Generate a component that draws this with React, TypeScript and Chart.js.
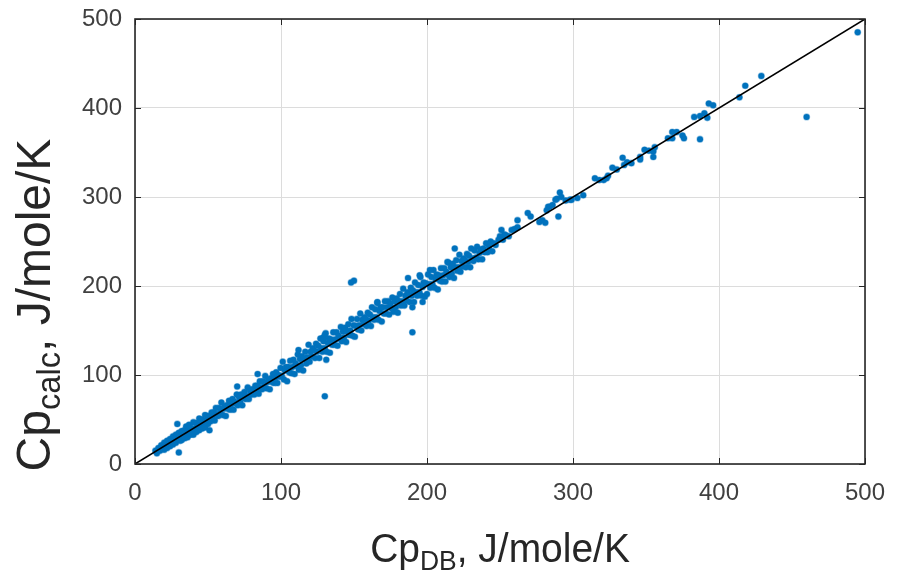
import { useEffect, useRef } from "react";
import { Chart, registerables } from "chart.js";

Chart.register(...registerables);

// Cp from database (x) and calculated Cp (y), J/mole/K, by range
const dbLow = [
  14, 15, 16, 17, 18, 19, 20, 20, 21, 22, 22, 23, 24, 24, 25, 26, 26, 27, 28, 28,
  29, 29, 30, 30, 31, 31, 32, 32, 33, 34, 34, 35, 35, 36, 37, 37, 38, 38, 39, 40,
  40, 41, 42, 42, 43, 44, 44, 45, 46, 46, 47, 48, 48, 49, 50, 50,
];
const calcLow = [
  15, 12, 18, 15, 21, 17, 16, 24, 19, 26, 18, 22, 28, 20, 23, 31, 22, 27, 33, 24,
  45, 30, 13, 35, 26, 32, 37, 27, 31, 38, 29, 35, 42, 30, 38, 44, 33, 41, 35, 47,
  33, 40, 46, 36, 43, 51, 38, 45, 50, 40, 47, 55, 41, 49, 54, 45,
];

const dbMid1 = [
  51, 51.8, 52.5, 53.3, 54, 54.6, 55.4, 56.1, 57, 57.7,
  58.3, 59.2, 60, 60.7, 61.5, 62.2, 63, 63.6, 64.4, 65.1,
  66, 66.8, 67.5, 68.2, 69, 69.7, 70.4, 71.3, 72, 72.6,
  73.5, 74.2, 75, 75.7, 76.4, 77.2, 78, 78.8, 79.5, 80.2,
  81, 81.7, 82.4, 83.2, 84, 84.7, 85.5, 86.2, 87, 87.6,
  88.4, 89.2, 90, 90.7, 91.5, 92.3, 93, 93.8, 94.5, 95.2,
  96, 96.7, 97.5, 98.3, 99, 99.7, 51, 70, 84,
];
const calcMid1 = [
  53, 48, 58, 52, 58, 49, 63, 56, 54, 63,
  57, 69, 55, 62, 65, 54, 66, 62, 71, 61,
  67, 73, 61, 70, 68, 78, 66, 75, 70, 78,
  66, 75, 81, 73, 76, 86, 73, 82, 78, 84,
  83, 78, 88, 82, 88, 79, 93, 86, 84, 93,
  87, 99, 85, 92, 95, 84, 96, 92, 101, 91,
  97, 103, 91, 100, 98, 108, 38, 87, 101,
];

const dbMid2 = [
  100.5, 101.2, 102, 102.7, 103.4, 104.2, 105, 105.6, 106.3, 107.1,
  107.8, 108.5, 109.3, 110, 110.8, 111.5, 112.2, 113, 113.7, 114.4,
  115.2, 116, 116.6, 117.4, 118.1, 118.9, 119.6, 120.3, 121.1, 121.8,
  122.5, 123.3, 124, 124.7, 125.5, 126.2, 127, 127.6, 128.4, 129.1,
  129.9, 130.6, 131.3, 132.1, 132.8, 133.5, 134.3, 135, 135.8, 136.5,
  137.2, 138, 138.7, 139.4, 140.2, 141, 141.6, 142.4, 143.1, 143.9,
  144.6, 145.3, 146.1, 146.8, 147.5, 148.3, 149, 149.8,
  112, 129, 130, 130, 131, 148, 150,
];
const calcMid2 = [
  99, 115, 95, 105, 109, 93, 109, 103, 116, 102,
  109, 117, 101, 113, 110, 123, 106, 118, 111, 121,
  105, 118, 126, 113, 120, 134, 115, 126, 121, 130,
  128, 119, 135, 126, 133, 119, 141, 130, 126, 138,
  130, 147, 126, 136, 141, 125, 140, 134, 148, 134,
  140, 148, 133, 144, 141, 154, 138, 149, 142, 153,
  137, 149, 157, 145, 150, 163, 144, 156,
  128, 142, 145, 76, 117, 204, 206,
];

const dbMid3 = [
  150.6, 151.3, 152.1, 152.8, 153.5, 154.3, 155, 155.7, 156.5, 157.2,
  158, 158.6, 159.4, 160.1, 160.9, 161.6, 162.3, 163.1, 163.8, 164.5,
  165.3, 166, 166.8, 167.5, 168.2, 169, 169.7, 170.4, 171.2, 171.9,
  172.7, 173.4, 174.1, 174.9, 175.6, 176.3, 177.1, 177.8, 178.6, 179.3,
  180, 180.8, 181.5, 182.2, 183, 183.7, 184.5, 185.2, 185.9, 186.7,
  187.4, 188.1, 188.9, 189.6, 190.4, 191.1, 191.8, 192.6, 193.3, 194,
  194.8, 195.5, 196.3, 197, 197.7, 198.5, 199.2,
  166, 187, 190, 190, 195, 197,
];
const calcMid3 = [
  143, 155, 163, 151, 156, 169, 150, 162, 157, 165,
  163, 155, 170, 161, 168, 155, 176, 165, 162, 174,
  165, 182, 162, 172, 176, 160, 176, 169, 183, 169,
  176, 183, 168, 180, 175, 187, 171, 183, 176, 186,
  170, 183, 191, 178, 183, 197, 178, 189, 184, 193,
  190, 182, 198, 189, 195, 182, 204, 193, 189, 201,
  193, 210, 189, 199, 204, 188, 203,
  181, 209, 148, 176, 212, 182,
];

const dbMid4 = [
  200, 200.7, 201.5, 202.2, 203, 203.7, 204.4, 205.2, 205.9, 206.6,
  207.4, 208.1, 208.9, 209.6, 210.3, 211.1, 211.8, 212.6, 213.3, 214,
  214.8, 215.5, 216.3, 217, 217.7, 218.5, 219.2, 220, 220.7, 221.4,
  222.2, 222.9, 223.7, 224.4, 225.1, 225.9, 226.6, 227.4, 228.1, 228.8,
  229.6, 230.3, 231.1, 231.8, 232.6, 233.5, 234.3, 235.2, 236, 236.9,
  237.8, 238.6, 239.5, 240.5, 241.5, 242.5, 243.6, 244.7, 245.8, 247,
  202, 214, 219, 249, 250, 251, 252, 253, 254, 256, 258, 260, 262, 262,
];
const calcMid4 = [
  191, 213, 202, 198, 210, 202, 218, 198, 208, 213,
  196, 212, 206, 220, 205, 212, 220, 205, 216, 213,
  226, 210, 221, 214, 225, 209, 221, 229, 217, 221,
  235, 216, 228, 222, 231, 229, 221, 236, 227, 234,
  221, 242, 231, 228, 240, 232, 244, 230, 237, 241,
  230, 242, 238, 248, 238, 244, 250, 239, 248, 246,
  218, 227, 242, 252, 256, 263, 252, 258, 257, 256, 263, 264, 266, 274,
];

const dbHigh = [
  269, 271, 277, 279, 281, 282, 283, 284, 286, 288, 289, 290, 291, 292, 295, 298, 299, 303, 307, 315,
  318, 321, 323, 324, 327, 330, 334, 335, 337, 340, 346, 346, 349, 352, 355, 355, 356, 365, 368, 368,
  371, 375, 376, 383, 387, 387, 390, 392, 393, 396, 414, 418, 429, 460, 495,
];
const calcHigh = [
  282, 278, 272, 274, 271, 285, 289, 289, 291, 297, 298, 278, 305, 300, 296, 297, 297, 299, 302, 321,
  319, 319, 321, 324, 333, 331, 344, 336, 339, 338, 345, 342, 353, 352, 351, 345, 356, 366, 373, 366,
  373, 369, 366, 390, 391, 365, 394, 389, 405, 403, 412, 425, 436, 390, 485,
];

const cpDB = [...dbLow, ...dbMid1, ...dbMid2, ...dbMid3, ...dbMid4, ...dbHigh];
const cpCalc = [...calcLow, ...calcMid1, ...calcMid2, ...calcMid3, ...calcMid4, ...calcHigh];

const parityEnds = [0, 500];
const axisMin = 0;
const axisMax = 500;
const tickStep = 100;

const xTitleParts = ["Cp", "DB", ", J/mole/K"];
const yTitleParts = ["Cp", "calc", ", J/mole/K"];

const FONT = "'Liberation Sans', Arial, Helvetica, sans-serif";

function drawSubTitle(ctx: CanvasRenderingContext2D, parts: string[], size: number) {
  const subSize = size * 0.68;
  ctx.font = `${size}px ${FONT}`;
  const w1 = ctx.measureText(parts[0]).width;
  const w3 = ctx.measureText(parts[2]).width;
  ctx.font = `${subSize}px ${FONT}`;
  const w2 = ctx.measureText(parts[1]).width;
  const total = w1 + w2 + w3;
  let x = -total / 2;
  ctx.textBaseline = "alphabetic";
  ctx.textAlign = "left";
  ctx.font = `${size}px ${FONT}`;
  ctx.fillText(parts[0], x, 0);
  x += w1;
  ctx.font = `${subSize}px ${FONT}`;
  ctx.fillText(parts[1], x, size * 0.2);
  x += w2;
  ctx.font = `${size}px ${FONT}`;
  ctx.fillText(parts[2], x, 0);
}

const framePlugin = {
  id: "frameAndTitles",
  afterDraw(chart: any) {
    const { ctx, chartArea } = chart;
    const { left, right, top, bottom } = chartArea;
    const xs = chart.scales.x;
    const ys = chart.scales.y;
    ctx.save();
    ctx.strokeStyle = "#262626";
    ctx.lineWidth = 1.6;
    ctx.strokeRect(left, top, right - left, bottom - top);
    ctx.lineWidth = 1;
    const tl = 6;
    ctx.beginPath();
    xs.ticks.forEach((t: any) => {
      const px = Math.round(xs.getPixelForValue(t.value)) + 0.5;
      ctx.moveTo(px, bottom);
      ctx.lineTo(px, bottom - tl);
      ctx.moveTo(px, top);
      ctx.lineTo(px, top + tl);
    });
    ys.ticks.forEach((t: any) => {
      const py = Math.round(ys.getPixelForValue(t.value)) + 0.5;
      ctx.moveTo(left, py);
      ctx.lineTo(left + tl, py);
      ctx.moveTo(right, py);
      ctx.lineTo(right - tl, py);
    });
    ctx.stroke();

    ctx.fillStyle = "#262626";
    ctx.save();
    ctx.translate((left + right) / 2, 562);
    ctx.scale(0.95, 1);
    drawSubTitle(ctx, xTitleParts, 41);
    ctx.restore();
    ctx.save();
    ctx.translate(50, 305);
    ctx.rotate(-Math.PI / 2);
    drawSubTitle(ctx, yTitleParts, 48);
    ctx.restore();
    ctx.restore();
  },
};

export default function App() {
  const ref = useRef<HTMLCanvasElement>(null);
  useEffect(() => {
    document.body.style.margin = "0";
    const points = cpDB.map((x, i) => ({ x, y: cpCalc[i] }));
    const line = parityEnds.map((v) => ({ x: v, y: v }));
    const tickFont = { family: FONT, size: 24 };
    const chart = new Chart(ref.current!, {
      type: "scatter",
      data: {
        datasets: [
          {
            data: line,
            showLine: true,
            borderColor: "#000000",
            borderWidth: 1.5,
            pointRadius: 0,
            order: 0,
          },
          {
            data: points,
            backgroundColor: "#0072BD",
            borderColor: "rgba(0,114,189,0.4)",
            borderWidth: 1.2,
            pointRadius: 3,
            order: 1,
          },
        ],
      },
      options: {
        animation: false,
        responsive: false,
        layout: { padding: { top: 19, right: 36, left: 0, bottom: 0 } },
        plugins: { legend: { display: false }, tooltip: { enabled: false } },
        scales: {
          x: {
            type: "linear",
            min: axisMin,
            max: axisMax,
            ticks: { stepSize: tickStep, font: tickFont, color: "#404040", padding: 15 },
            grid: { color: "#dcdcdc", drawTicks: false },
            border: { display: false },
            afterFit(s: any) {
              s.height = 108;
              s.paddingLeft = 0;
              s.paddingRight = 0;
            },
          },
          y: {
            type: "linear",
            min: axisMin,
            max: axisMax,
            ticks: { stepSize: tickStep, font: tickFont, color: "#404040", padding: 13 },
            grid: { color: "#dcdcdc", drawTicks: false },
            border: { display: false },
            afterFit(s: any) {
              s.width = 135;
              s.paddingTop = 0;
              s.paddingBottom = 0;
            },
          },
        },
      },
      plugins: [framePlugin],
    });
    return () => chart.destroy();
  }, []);
  return <canvas ref={ref} width={901} height={572} style={{ display: "block" }} />;
}
